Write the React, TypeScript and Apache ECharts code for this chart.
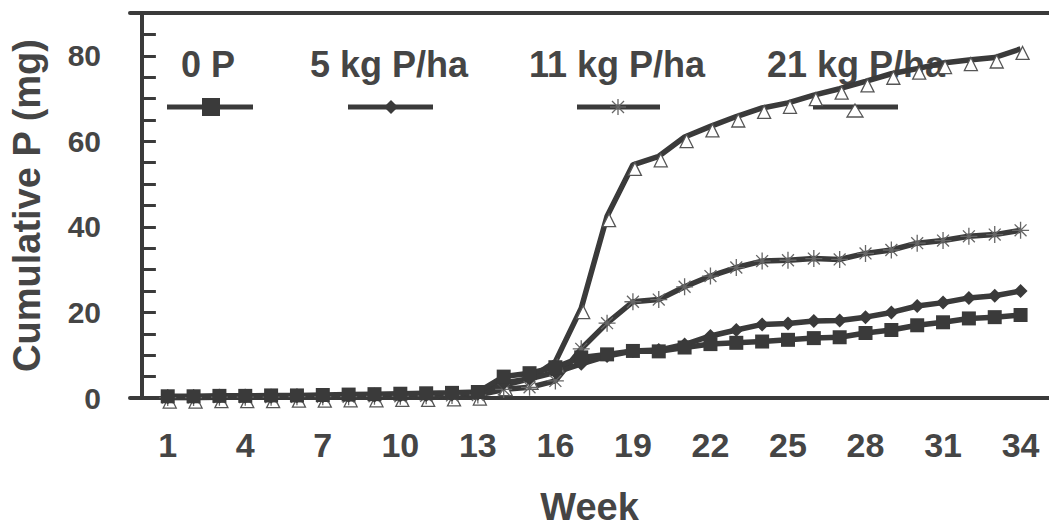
import React, { useEffect, useRef } from "react";
import * as echarts from "echarts";

const weeks = [1,2,3,4,5,6,7,8,9,10,11,12,13,14,15,16,17,18,19,20,21,22,23,24,25,26,27,28,29,30,31,32,33,34];
const p0 = [0.4,0.4,0.5,0.5,0.6,0.6,0.7,0.8,0.9,1.0,1.1,1.2,1.4,5.0,5.8,7.2,9.5,10.2,11.0,10.9,11.8,12.6,12.9,13.2,13.6,14.0,14.2,15.2,15.9,17.0,17.7,18.6,18.9,19.4];
const p5 = [0.2,0.2,0.3,0.3,0.3,0.4,0.4,0.5,0.5,0.6,0.7,0.8,1.0,3.5,4.5,6.0,8.0,9.8,11.0,11.2,12.5,14.5,15.9,17.2,17.4,18.0,18.1,18.9,20.0,21.5,22.3,23.4,23.9,25.0];
const p11 = [0.1,0.1,0.2,0.2,0.2,0.3,0.3,0.3,0.4,0.4,0.5,0.6,0.7,2.0,2.5,4.0,11.5,17.5,22.5,23.0,26.0,28.5,30.5,32.0,32.2,32.6,32.4,33.8,34.6,36.2,36.8,37.8,38.2,39.2];
const p21 = [0.1,0.1,0.2,0.2,0.2,0.3,0.3,0.4,0.4,0.5,0.5,0.6,0.8,3.0,4.5,8.5,21.0,42.5,54.5,56.5,61.0,63.5,65.8,67.8,69.0,70.8,72.3,74.0,75.8,77.0,78.3,79.0,79.6,81.6];
const seriesNames = ["0 P", "5 kg P/ha", "11 kg P/ha", "21 kg P/ha"];
const xTickLabels = [1,4,7,10,13,16,19,22,25,28,31,34];
const yTickLabels = [0,20,40,60,80];
const yMinorTicks = [0,5,10,15,20,25,30,35,40,45,50,55,60,65,70,75,80,85];

const INK = "#3a3a3a";
const TXT = "#454545";
const FONT = "'Liberation Sans', Arial, sans-serif";
const ASTER = "path://M0,5 L10,5 M5,0 L5,10 M1.5,1.5 L8.5,8.5 M8.5,1.5 L1.5,8.5";

function pairs(vals: number[]) {
  return weeks.map((w, i) => [w, vals[i]]);
}

export default function App() {
  const ref = useRef<HTMLDivElement>(null);
  useEffect(() => {
    if (!ref.current) return;
    const chart = echarts.init(ref.current, null, { renderer: "svg" });
    const legendText = (x: number, t: string) => ({
      type: "text", x, y: 64,
      style: { text: t, fill: TXT, font: `bold 36px ${FONT}`, textAlign: "center", textVerticalAlign: "middle" },
    });
    const legendLine = (x1: number, x2: number) => ({
      type: "line", shape: { x1, y1: 107, x2, y2: 107 }, style: { stroke: INK, lineWidth: 5 },
    });
    const ax = 618, ay = 107, ar = 8;
    chart.setOption({
      animation: false,
      backgroundColor: "#ffffff",
      grid: { left: 130, top: 13, width: 919, height: 397, containLabel: false },
      xAxis: [
        {
          type: "value", min: -0.46, max: 35.1, position: "bottom",
          axisLine: { show: true, lineStyle: { color: INK, width: 4 } },
          axisTick: { show: false },
          splitLine: { show: false },
          axisLabel: {
            customValues: xTickLabels, fontSize: 34, fontWeight: "bold", color: TXT,
            fontFamily: FONT, margin: 30,
          },
          name: "Week", nameLocation: "middle", nameGap: 90,
          nameTextStyle: { fontSize: 38, fontWeight: "bold", color: TXT, fontFamily: FONT },
        },
        {
          type: "value", min: -0.46, max: 35.1, position: "top",
          axisLine: { show: true, lineStyle: { color: INK, width: 4 } },
          axisTick: { show: false }, axisLabel: { show: false }, splitLine: { show: false },
        },
      ],
      yAxis: {
        type: "value", min: 0, max: 90,
        axisLine: { show: true, lineStyle: { color: INK, width: 4 } },
        axisTick: { show: true, inside: true, length: 14, customValues: yMinorTicks, lineStyle: { color: INK, width: 3 } },
        splitLine: { show: false },
        axisLabel: {
          customValues: yTickLabels, fontSize: 30, fontWeight: "bold", color: TXT,
          fontFamily: FONT, margin: 29,
        },
        name: "Cumulative P (mg)", nameLocation: "middle", nameGap: 84, nameRotate: 90,
        nameTextStyle: { fontSize: 38, fontWeight: "bold", color: TXT, fontFamily: FONT },
      },
      series: [
        {
          name: seriesNames[3], type: "line", data: pairs(p21), symbol: "triangle", symbolSize: 13,
          symbolOffset: [2, 4],
          lineStyle: { color: INK, width: 5.5 },
          itemStyle: { color: "#ffffff", borderColor: "#555", borderWidth: 1.3 },
        },
        {
          name: seriesNames[2], type: "line", data: pairs(p11), symbol: ASTER, symbolSize: 17,
          lineStyle: { color: INK, width: 5.5 },
          itemStyle: { color: "rgba(0,0,0,0)", borderColor: "#666", borderWidth: 1.3 },
        },
        {
          name: seriesNames[1], type: "line", data: pairs(p5), symbol: "diamond", symbolSize: 14,
          lineStyle: { color: INK, width: 5.5 }, itemStyle: { color: INK },
        },
        {
          name: seriesNames[0], type: "line", data: pairs(p0), symbol: "rect", symbolSize: 14,
          lineStyle: { color: INK, width: 5.5 }, itemStyle: { color: INK },
        },
      ],
      graphic: [
        legendText(208, seriesNames[0]),
        legendText(389, seriesNames[1]),
        legendText(617, seriesNames[2]),
        legendText(856, seriesNames[3]),
        legendLine(167, 253),
        legendLine(348, 433),
        legendLine(577, 660),
        legendLine(813, 898),
        { type: "rect", shape: { x: 202, y: 98, width: 18, height: 18 }, style: { fill: INK } },
        { type: "polygon", shape: { points: [[391, 100], [398, 107], [391, 114], [384, 107]] }, style: { fill: INK } },
        { type: "line", shape: { x1: ax - ar, y1: ay, x2: ax + ar, y2: ay }, style: { stroke: "#666", lineWidth: 1.3 } },
        { type: "line", shape: { x1: ax, y1: ay - ar, x2: ax, y2: ay + ar }, style: { stroke: "#666", lineWidth: 1.3 } },
        { type: "line", shape: { x1: ax - 6, y1: ay - 6, x2: ax + 6, y2: ay + 6 }, style: { stroke: "#666", lineWidth: 1.3 } },
        { type: "line", shape: { x1: ax + 6, y1: ay - 6, x2: ax - 6, y2: ay + 6 }, style: { stroke: "#666", lineWidth: 1.3 } },
        { type: "polygon", shape: { points: [[855, 104], [863, 117], [847, 117]] }, style: { fill: "#fff", stroke: "#555", lineWidth: 1.3 } },
      ],
    });
    return () => chart.dispose();
  }, []);
  return (
    <div
      ref={ref}
      style={{ position: "absolute", left: 0, top: 0, width: 1049, height: 531 }}
    />
  );
}
